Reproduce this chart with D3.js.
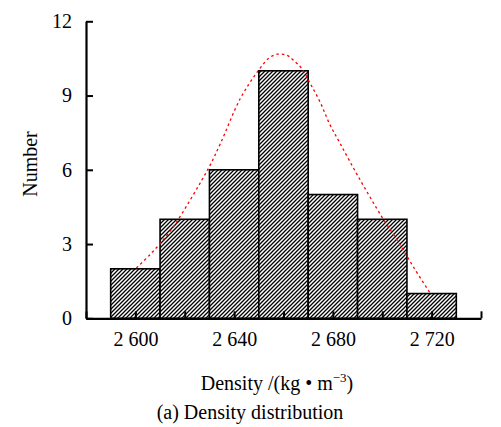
<!DOCTYPE html>
<html>
<head>
<meta charset="utf-8">
<script src="https://cdn.jsdelivr.net/npm/d3@7"></script>
<style>
  html, body { margin: 0; padding: 0; background: #fff; }
  text { font-family: "Liberation Serif", "Times New Roman", serif; fill: #000; }
</style>
</head>
<body>
<svg id="chart" width="501" height="427"></svg>
<script>
// ---- data ----
const binCenters = [2600, 2620, 2640, 2660, 2680, 2700, 2720];
const binWidth = 20;
const counts = [2, 4, 6, 10, 5, 4, 1];
const xTickValues = [2580, 2600, 2620, 2640, 2660, 2680, 2700, 2720, 2740];
const xTickLabels = { 2600: "2 600", 2640: "2 640", 2680: "2 680", 2720: "2 720" };
const yTickValues = [0, 3, 6, 9, 12];
// fitted normal curve
const curveX = [2600.4, 2606, 2611.2, 2616.3, 2622.2, 2626.9, 2630.3, 2634.4, 2642.5, 2648.9, 2651.2, 2653.9, 2657.5, 2661.3, 2664, 2667.4, 2670.8, 2674.8, 2678.6, 2682.9, 2690.3, 2700.2, 2706.5, 2712.6, 2719.3];
const curveY = [2.03, 2.58, 3.16, 3.83, 4.78, 5.58, 6.19, 7.05, 8.88, 9.89, 10.19, 10.5, 10.67, 10.63, 10.43, 10.09, 9.49, 8.74, 7.87, 7.07, 5.72, 4.04, 3.09, 2.08, 1.03];
const xTitle = "Density /(kg • m";
const xTitleSup = "−3";
const yTitle = "Number";
const caption = "(a) Density distribution";

// ---- chart ----
const svg = d3.select("#chart");
const x = d3.scaleLinear().domain([2580, 2740]).range([86, 481]);
const y = d3.scaleLinear().domain([0, 12]).range([318.3, 21.3]);

const defs = svg.append("defs");
const pat = defs.append("pattern")
  .attr("id", "hatch").attr("patternUnits", "userSpaceOnUse")
  .attr("width", 4).attr("height", 4);
pat.append("rect").attr("width", 4).attr("height", 4).attr("fill", "#fff");
pat.append("path")
  .attr("d", "M-1,1 l2,-2 M0,4 l4,-4 M3,5 l2,-2")
  .attr("stroke", "#000").attr("stroke-width", 1.3);

// bars
svg.append("g").selectAll("rect")
  .data(binCenters)
  .join("rect")
  .attr("x", (d) => x(d - binWidth / 2))
  .attr("y", (d, i) => y(counts[i]))
  .attr("width", (d) => x(d + binWidth / 2) - x(d - binWidth / 2))
  .attr("height", (d, i) => y(0) - y(counts[i]))
  .attr("fill", "url(#hatch)")
  .attr("stroke", "#000")
  .attr("stroke-width", 1.6);

// curve
const pts = curveX.map((v, i) => [v, curveY[i]]);
svg.append("path")
  .datum(pts)
  .attr("d", d3.line().x(d => x(d[0])).y(d => y(d[1])).curve(d3.curveCatmullRom))
  .attr("fill", "none")
  .attr("stroke", "#ff0000")
  .attr("stroke-width", 1.3)
  .attr("stroke-dasharray", "2.5,3");

// axes
const yAxis = d3.axisLeft(y).tickValues(yTickValues).tickSize(-7).tickSizeOuter(0).tickPadding(14)
  .tickFormat(d3.format("d"));
const gy = svg.append("g").attr("transform", `translate(${x(2580)},0)`).call(yAxis);
gy.selectAll("text").attr("font-size", 20).attr("font-family", "Liberation Serif");

const xAxis = d3.axisBottom(x).tickValues(xTickValues).tickSize(-7).tickSizeOuter(0).tickPadding(14)
  .tickFormat(d => xTickLabels[d] || "");
const gx = svg.append("g").attr("transform", `translate(0,${y(0)})`).call(xAxis);
gx.selectAll("text").attr("font-size", 20).attr("font-family", "Liberation Serif");

[gx, gy].forEach(g => {
  g.select(".domain").attr("stroke", "#000").attr("stroke-width", 2.2);
  g.selectAll(".tick line").attr("stroke", "#000").attr("stroke-width", 2);
});

// titles
const xt = svg.append("text")
  .attr("x", 277).attr("y", 390)
  .attr("text-anchor", "middle").attr("font-size", 20);
xt.append("tspan").text(xTitle);
xt.append("tspan").attr("dy", -8).attr("font-size", 13).text(xTitleSup);
xt.append("tspan").attr("dy", 8).text(")");

svg.append("text")
  .attr("transform", "translate(37,164) rotate(-90)")
  .attr("text-anchor", "middle").attr("font-size", 20)
  .text(yTitle);

svg.append("text")
  .attr("x", 250).attr("y", 419)
  .attr("text-anchor", "middle").attr("font-size", 20)
  .text(caption);
</script>
</body>
</html>
